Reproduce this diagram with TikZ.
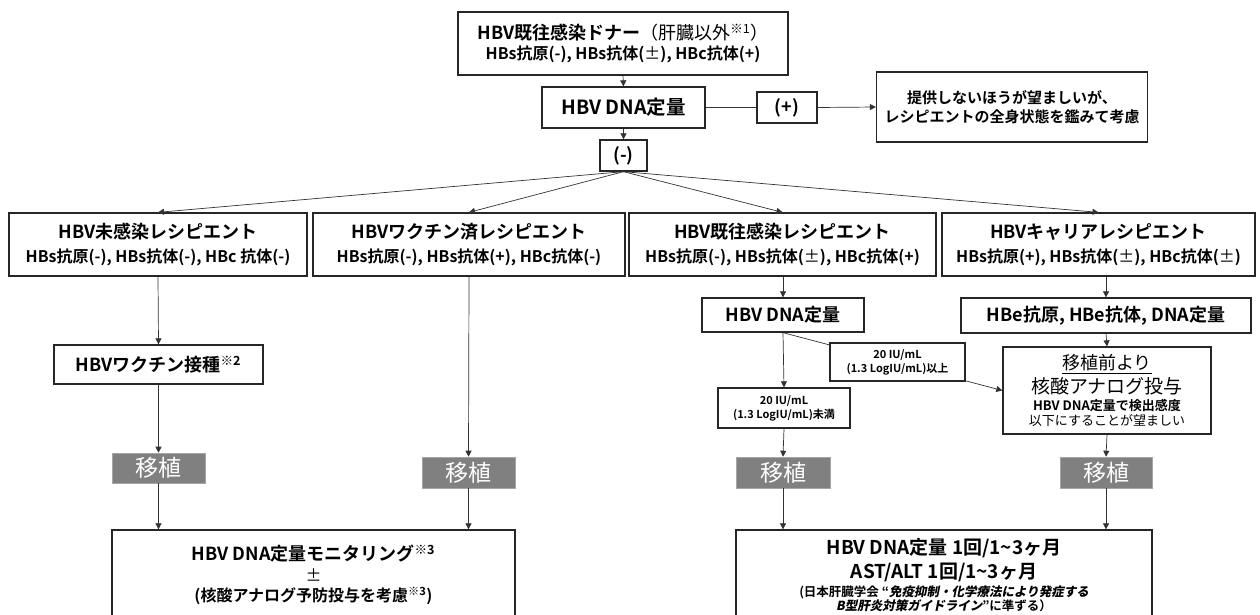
\documentclass[tikz,border=0pt]{standalone}
\usepackage{fontspec}
\setmainfont{Noto Sans CJK JP}[BoldFont={Noto Sans CJK JP Bold}]
\newfontfamily\jpbi{Noto Sans CJK JP Bold}[FakeSlant=0.2]
\usetikzlibrary{arrows.meta}
\newcommand\fsz[1]{\fontsize{#1}{#1}\selectfont}
\begin{document}
\begin{tikzpicture}[x=1pt,y=-1pt,
  box/.style={draw=black!85, line width=1.3pt, fill=white, align=center, inner sep=0pt, font=\bfseries},
  tbox/.style={fill=black!50, draw=black!35, line width=0.6pt, inner sep=0pt, text=white, font=\fsz{23}},
  arr/.style={draw=black!80, line width=0.7pt, -{Triangle[length=6pt,width=6pt]}},
  ln/.style={draw=black!80, line width=0.7pt}]
\clip (0,0) rectangle (1260,614);
\fill[white] (0,0) rectangle (1260,614);
% top
\node[box, minimum width=330, minimum height=63] (donor) at (623,43.5)
  {{\fsz{18}HBV既往感染ドナー{\mdseries（肝臓以外\textsuperscript{※1}）}}\\[4pt]{\fsz{16}HBs抗原(-), HBs抗体({\mdseries ±}), HBc抗体(+)}};
\node[box, minimum width=163, minimum height=41] (dna1) at (623.5,107.5) {\fsz{19.5}HBV DNA定量};
\node[box, minimum width=60, minimum height=31] (plus) at (787,107.5) {\fsz{18}(+)};
\node[box, minimum width=271, minimum height=70, font=\bfseries] (noprov) at (1012,107)
  {\fsz{15}提供しないほうが望ましいが、\\[4pt]\fsz{15}レシピエントの全身状態を鑑みて考慮};
\node[box, minimum width=47, minimum height=31] (minus) at (623.5,155.5) {\fsz{18}(-)};
% recipients
\node[box, minimum width=298, minimum height=63] (r1) at (158,244.5)
  {{\fsz{18}HBV未感染レシピエント}\\[7pt]{\fsz{16}HBs抗原(-), HBs抗体(-), HBc 抗体(-)}};
\node[box, minimum width=312, minimum height=63] (r2) at (469,244.5)
  {{\fsz{18}HBVワクチン済レシピエント}\\[7pt]{\fsz{16}HBs抗原(-), HBs抗体(+), HBc抗体(-)}};
\node[box, minimum width=307, minimum height=63] (r3) at (782.5,244.5)
  {{\fsz{18}HBV既往感染レシピエント}\\[7pt]{\fsz{16}HBs抗原(-), HBs抗体({\mdseries ±}), HBc抗体(+)}};
\node[box, minimum width=313, minimum height=63] (r4) at (1098.5,244.5)
  {{\fsz{18}HBVキャリアレシピエント}\\[7pt]{\fsz{16}HBs抗原(+), HBs抗体({\mdseries ±}), HBc抗体({\mdseries ±})}};
% column 1
\node[box, minimum width=209, minimum height=39] (vac) at (158.5,364.5) {\fsz{18}HBVワクチン接種\textsuperscript{※2}};
% column 3
\node[box, minimum width=162, minimum height=34] (dna3) at (783,315) {\fsz{18}HBV DNA定量};
\node[box, minimum width=132, minimum height=40] (under) at (784,408)
  {\fsz{11}20 IU/mL\\[2pt]\fsz{11}(1.3 LogIU/mL)未満};
% column 4
\node[box, minimum width=290, minimum height=35] (hbe) at (1106,315.5) {\fsz{18}HBe抗原, HBe抗体, DNA定量};
\node[box, minimum width=208, minimum height=87, font=\mdseries] (pre) at (1107,390.5)
  {\fsz{18}\underline{移植前より}\\[3pt]\fsz{19}核酸アナログ投与\\[3pt]{\bfseries\fsz{13}HBV DNA定量で検出感度}\\[2pt]\fsz{13}以下にすることが望ましい};
% transplant
\node[tbox, minimum width=93, minimum height=30] (t1) at (158.5,468) {移植};
\node[tbox, minimum width=93, minimum height=31] (t2) at (468.5,472.5) {移植};
\node[tbox, minimum width=94, minimum height=31] (t3) at (783,472.5) {移植};
\node[tbox, minimum width=92, minimum height=31] (t4) at (1106,472.5) {移植};
% bottom
\node[box, minimum width=403, minimum height=90] (bl) at (313.5,575)
  {{\fsz{18}HBV DNA定量モニタリング\textsuperscript{※3}}\\[5pt]{\mdseries\fsz{16}±}\\[5pt]{\fsz{16}(核酸アナログ予防投与を考慮\textsuperscript{※3})}};
\node[box, minimum width=416, minimum height=90] (br) at (944,575)
  {{\fsz{19}HBV DNA定量 1回/1\textasciitilde 3ヶ月}\\[4pt]{\fsz{19}AST/ALT 1回/1\textasciitilde 3ヶ月}\\[3pt]{\fsz{12.5}(日本肝臓学会 “{\jpbi 免疫抑制・化学療法により発症する}}\\{\fsz{12.5}{\jpbi B型肝炎対策ガイドライン}”に準ずる）}};
% connectors
\draw[arr] (donor.south) -- (dna1.north);
\draw[ln] (dna1.east) -- (plus.west);
\draw[arr] (plus.east) -- (noprov.west);
\draw[arr] (dna1.south) -- (minus.north);
\draw[arr] (minus.south) -- (r1.north);
\draw[arr] (minus.south) -- (r2.north);
\draw[arr] (minus.south) -- (r3.north);
\draw[arr] (minus.south) -- (r4.north);
\draw[arr] (r1.south) -- (vac.north);
\draw[arr] (vac.south) -- (t1.north);
\draw[arr] (r2.south) -- (t2.north);
\draw[arr] (t1.south) -- (t1.south |- bl.north);
\draw[arr] (t2.south) -- (t2.south |- bl.north);
\draw[arr] (r3.south -| dna3.north) -- (dna3.north);
\draw[arr] (dna3.south) -- (under.north);
\draw[arr] (dna3.south) -- (pre.west);
\draw[arr] (under.south) -- (t3.north);
\draw[arr] (t3.south) -- (t3.south |- br.north);
\draw[arr] (r4.south -| hbe.north) -- (hbe.north);
\draw[arr] (hbe.south) -- (pre.north);
\draw[arr] (pre.south) -- (t4.north);
\draw[arr] (t4.south) -- (t4.south |- br.north);
\node[box, line width=1.1pt, minimum width=135, minimum height=38] (over) at (897.5,362)
  {\fsz{11}20 IU/mL\\[2pt]\fsz{11}(1.3 LogIU/mL)以上};
\end{tikzpicture}
\end{document}
